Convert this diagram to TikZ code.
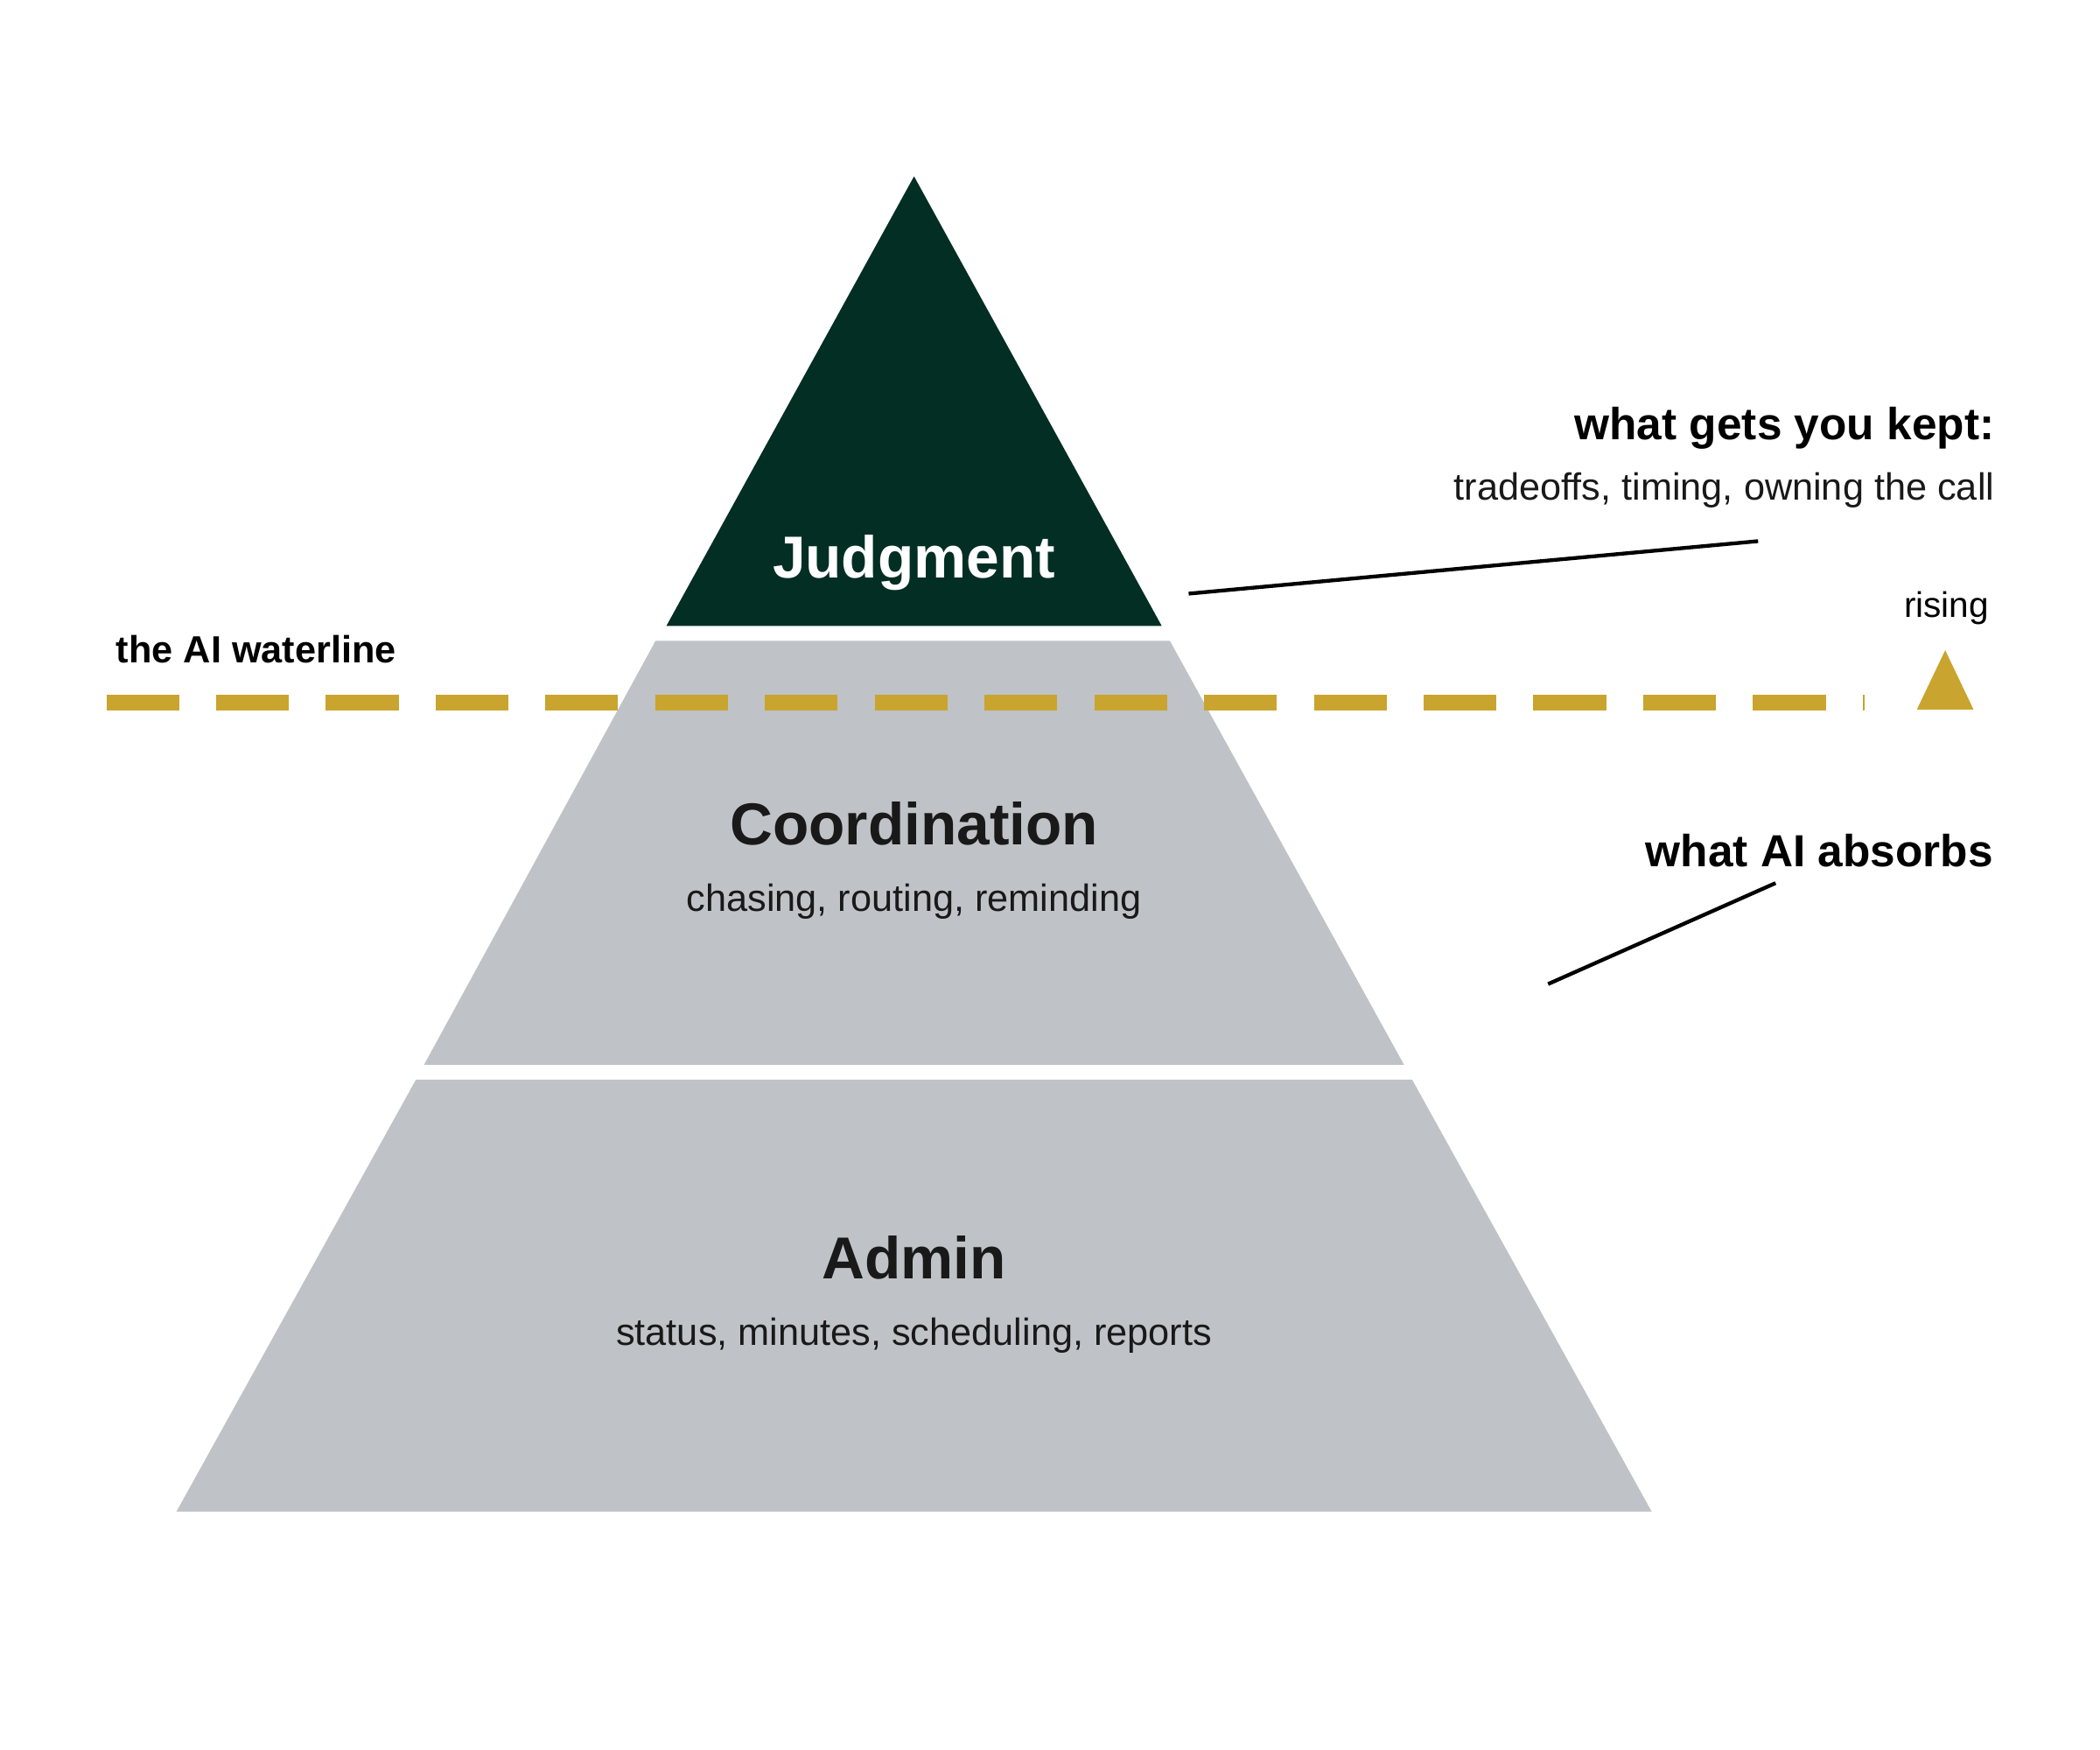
\documentclass[tikz,border=0pt]{standalone}
\usepackage{fontspec}
\setmainfont{Liberation Sans}
\definecolor{judgegreen}{HTML}{032E24}
\definecolor{layergray}{HTML}{BFC2C6}
\definecolor{watergold}{HTML}{C9A42E}
\begin{document}
\begin{tikzpicture}[x=0.01cm,y=-0.01cm]

    \tikzset{layer/.style={fill=layergray, draw=none},
             title/.style={font=\bfseries\fontsize{12.5}{15}\selectfont, text=black!90},
             sub/.style={font=\fontsize{8}{10}\selectfont, text=black!90},
             note/.style={font=\bfseries\fontsize{9.5}{11}\selectfont, anchor=east},
             leader/.style={line width=0.8pt, black}}

    \useasboundingbox (0,0) rectangle (1560,1300);

    % layers
    \fill[judgegreen] (679,131) -- (863,465) -- (495,465) -- cycle;
    \fill[layer] (487,476) -- (869,476) -- (1043,791) -- (315,791) -- cycle;
    \fill[layer] (309,802) -- (1049,802) -- (1227,1123) -- (131,1123) -- cycle;

    \node[title, text=white] (judge) at (679,418) {Judgment};
    \node[title] (coord) at (679,612) {Coordination};
    \node[sub] (coordsub) at (679,670) {chasing, routing, reminding};
    \node[title] (admin) at (679,934) {Admin};
    \node[sub] (adminsub) at (679,992) {status, minutes, scheduling, reports};

    % waterline
    \coordinate (wl) at (79,522);
    \coordinate (wr) at (1385,522);
    \draw[watergold, line width=3.4pt, dash pattern=on 0.54cm off 0.275cm] (wl) -- (wr);
    \fill[watergold] (1424,527) -- (1466,527) -- (1445,483) -- cycle;
    \node[font=\fontsize{7.5}{9}\selectfont] (rise) at (1446,452) {rising};
    \node[font=\bfseries\fontsize{8}{9}\selectfont, anchor=west] (wlabel) at (74,482) {the AI waterline};

    % notes
    \node[note] (kept) at (1494,318) {what gets you kept:};
    \node[sub, anchor=east] (keptsub) at (1494,364) {tradeoffs, timing, owning the call};
    \node[note] (absorb) at (1493,632) {what AI absorbs};
    \coordinate (k1) at (883,441);
    \coordinate (k2) at (1306,402);
    \coordinate (a1) at (1150,731);
    \coordinate (a2) at (1319,656);
    \draw[leader] (k1) -- (k2);
    \draw[leader] (a1) -- (a2);
\end{tikzpicture}
\end{document}
